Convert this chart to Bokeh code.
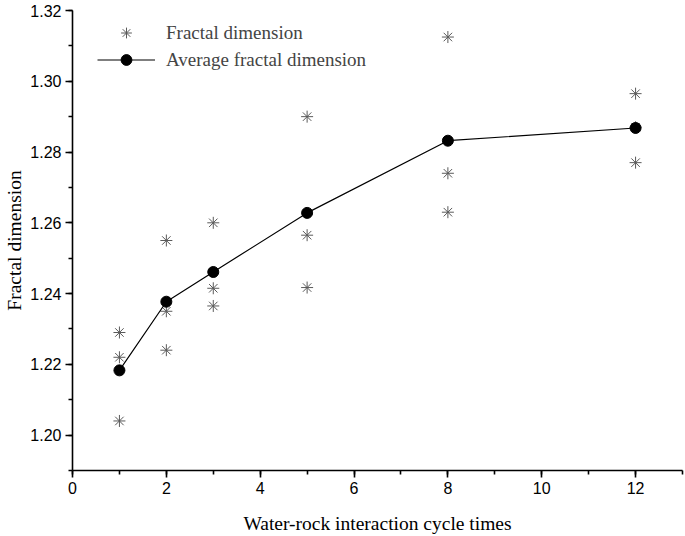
from bokeh.plotting import figure
from bokeh.models import SingleIntervalTicker, PrintfTickFormatter, Range1d, Legend, LegendItem
from bokeh.embed import file_html
from bokeh.resources import INLINE

# data
cycles = [1, 2, 3, 5, 8, 12]
fd_run1 = [1.229, 1.255, 1.260, 1.290, 1.3125, 1.2965]
fd_run2 = [1.222, 1.235, 1.2415, 1.2565, 1.274, 1.287]
fd_run3 = [1.204, 1.224, 1.2365, 1.2417, 1.263, 1.277]
fd_avg = [1.2183, 1.2377, 1.2461, 1.2628, 1.2832, 1.2868]

p = figure(width=685, height=536, output_backend="svg", toolbar_location=None,
           x_range=Range1d(0, 13), y_range=Range1d(1.19, 1.32),
           min_border_left=72, min_border_right=3, min_border_top=10, min_border_bottom=0)
p.outline_line_color = None
p.xgrid.visible = False
p.ygrid.visible = False

star_x = cycles * 3
star_y = fd_run1 + fd_run2 + fd_run3
r_star = p.scatter(star_x, star_y, marker="asterisk", size=12, line_color="#5a5a5a", line_width=1)
r_line = p.line(cycles, fd_avg, line_color="black", line_width=1.2)
r_dot = p.scatter(cycles, fd_avg, marker="circle", size=11, fill_color="black", line_color="black")

for ax in (p.xaxis[0], p.yaxis[0]):
    ax.axis_line_width = 1.6
    ax.axis_line_color = "black"
    ax.major_tick_line_color = "black"
    ax.minor_tick_line_color = "black"
    ax.major_tick_line_width = 1.6
    ax.minor_tick_line_width = 1.6
    ax.major_tick_out = 7
    ax.major_tick_in = 0
    ax.minor_tick_out = 4
    ax.minor_tick_in = 0
    ax.major_label_standoff = 4
    ax.major_label_text_font = "Liberation Sans"
    ax.major_label_text_font_size = "16px"
    ax.major_label_text_color = "black"
    ax.axis_label_text_font = "Liberation Serif"
    ax.axis_label_text_font_size = "19.5px"
    ax.axis_label_text_font_style = "normal"
    ax.axis_label_text_color = "black"

p.xaxis[0].ticker = SingleIntervalTicker(interval=2, num_minor_ticks=2)
p.yaxis[0].ticker = SingleIntervalTicker(interval=0.02, num_minor_ticks=2)
p.yaxis[0].formatter = PrintfTickFormatter(format="%.2f")
p.xaxis[0].axis_label = "Water-rock interaction cycle times"
p.yaxis[0].axis_label = "Fractal dimension"
p.xaxis[0].axis_label_standoff = 16
p.yaxis[0].axis_label_standoff = 2

legend = Legend(items=[
    LegendItem(label="Fractal dimension", renderers=[r_star]),
    LegendItem(label="Average fractal dimension", renderers=[r_line, r_dot]),
], location=(25, 397))
legend.border_line_color = None
legend.background_fill_alpha = 0
legend.label_text_font = "Liberation Serif"
legend.label_text_font_size = "19px"
legend.glyph_width = 58
legend.glyph_height = 27
legend.label_height = 27
legend.label_standoff = 11
legend.margin = 0
legend.padding = 0
legend.spacing = 0
p.add_layout(legend)

open("out.html", "w").write(file_html(p, INLINE))
